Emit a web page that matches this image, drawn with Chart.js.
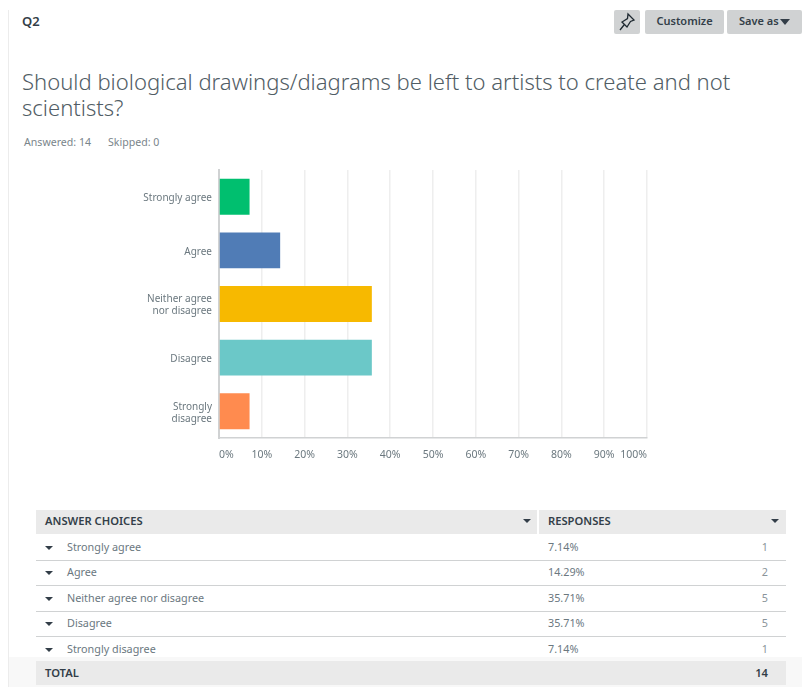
<!DOCTYPE html>
<html>
<head>
<meta charset="utf-8">
<script src="https://cdn.jsdelivr.net/npm/chart.js@4"></script>
<style>
  html, body { margin: 0; padding: 0; background: #fff; }
  body { position: relative; width: 802px; height: 687px; overflow: hidden; font-family: "Noto Sans", sans-serif; color: #6b787f; }
  .abs { position: absolute; white-space: nowrap; }
  .btn { background: #d0d2d3; color: #333e48; font-size: 11px; font-weight: 600; text-align: center; height: 24px; line-height: 22px; top: 10px; border-radius: 2px; }
  .band { background: #eaeaea; height: 24px; left: 36px; width: 750px; }
  .head { color: #333e48; font-size: 11.2px; font-weight: 600; line-height: 14px; }
  .cell { font-size: 10.8px; line-height: 14px; }
  .rule { left: 36px; width: 750px; height: 1px; background: #d0d2d3; }
  .caret { width: 0; height: 0; border-left: 4px solid transparent; border-right: 4px solid transparent; border-top: 4px solid #333e48; }
</style>
</head>
<body>
<div class="abs" style="left:8px;top:10px;width:1px;height:677px;background:#ececec"></div>
<div class="abs" style="left:9px;top:657px;width:793px;height:30px;background:#f8f8f8"></div>

<div class="abs" style="left:22px;top:13px;font-size:13px;font-weight:600;color:#333e48;line-height:17px">Q2</div>
<div class="abs btn" style="left:614px;width:26px">
  <svg width="20" height="20" viewBox="0 0 20 20" style="margin-top:2px" fill="none" stroke="#1d2830" stroke-width="1.3">
    <path d="M11 2 L17 8 L13.5 9.5 L10 15 L5 10 L10.5 6.5 Z M7 13 L3 18"/>
  </svg>
</div>
<div class="abs btn" style="left:645px;width:79px">Customize</div>
<div class="abs btn" style="left:727px;width:75px;text-align:left;text-indent:12px">Save as</div>
<div class="abs caret" style="left:780px;top:19px;border-left-width:5px;border-right-width:5px;border-top-width:6px"></div>

<div class="abs" id="title" style="left:22px;top:68px;font-size:22.05px;line-height:26px;color:#515d65;font-weight:300">Should biological drawings/diagrams be left to artists to create and not<br>scientists?</div>
<div class="abs" style="left:24px;top:135px;font-size:10.6px;line-height:14px;color:#7a858b">Answered: 14</div>
<div class="abs" style="left:108px;top:135px;font-size:10.6px;line-height:14px;color:#7a858b">Skipped: 0</div>

<div class="abs" style="left:130px;top:165px;width:530px;height:300px">
  <canvas id="chart" width="530" height="300"></canvas>
</div>

<div id="table"></div>

<script>
// Survey answers, as axis labels, table labels, percentages and counts
const axisLabels = ["Strongly agree", "Agree", ["Neither agree", "nor disagree"], "Disagree", ["Strongly", "disagree"]];
const choices = ["Strongly agree", "Agree", "Neither agree nor disagree", "Disagree", "Strongly disagree"];
const percents = [7.14, 14.29, 35.71, 35.71, 7.14];
const counts = [1, 2, 5, 5, 1];
const total = 14;
const barColors = ["#00bf6f", "#507cb6", "#f7b900", "#6bc8c8", "#ff8b4f"];
const xTicks = [0, 10, 20, 30, 40, 50, 60, 70, 80, 90, 100];

const textColor = "#6b787f";
const font = { family: '"Noto Sans", sans-serif', size: 10 };

new Chart(document.getElementById("chart"), {
  type: "bar",
  data: {
    labels: axisLabels,
    datasets: [{
      data: percents,
      backgroundColor: barColors,
      barPercentage: 0.67,
      categoryPercentage: 1
    }]
  },
  options: {
    indexAxis: "y",
    responsive: false,
    animation: false,
    layout: { padding: { top: 5, right: 13, left: 0, bottom: 0 } },
    plugins: { legend: { display: false }, tooltip: { enabled: false } },
    scales: {
      x: {
        min: 0,
        max: 100,
        afterFit(scale) {
          scale.height = 27;
          scale.paddingLeft = 0;
          scale.paddingRight = 0;
        },
        afterBuildTicks(scale) { scale.ticks = xTicks.map(value => ({ value })); },
        grid: { color: "#eeeeee", lineWidth: 1.5, drawTicks: false },
        border: { color: "#d0d2d3", width: 1.5 },
        ticks: {
          align: "inner",
          padding: 11,
          maxRotation: 0,
          autoSkip: false,
          color: textColor,
          font: { family: font.family, size: 10.5 },
          callback: value => value + "%"
        }
      },
      y: {
        afterFit(scale) {
          scale.width = 89;
          scale.paddingTop = 0;
          scale.paddingBottom = 0;
        },
        grid: { display: false, drawTicks: false },
        border: { color: "#d0d2d3", width: 2 },
        ticks: { padding: 7, labelOffset: 1.5, color: textColor, font, autoSkip: false }
      }
    }
  }
});

// Results table under the chart
const table = document.getElementById("table");
function add(className, style, text) {
  const el = document.createElement("div");
  el.className = "abs " + className;
  el.style.cssText = style;
  if (text !== undefined) el.textContent = text;
  table.appendChild(el);
}

add("band", "top:510px");
add("", "left:537px;top:510px;width:1.5px;height:24px;background:#fff");
add("head", "left:45px;top:514px", "ANSWER CHOICES");
add("head", "left:548px;top:514px", "RESPONSES");
add("caret", "left:523px;top:519px");
add("caret", "left:771px;top:519px");

const rowCentres = [547, 572, 598, 623, 649];
choices.forEach((choice, i) => {
  const y = rowCentres[i];
  add("caret", `left:45px;top:${y - 1}px`);
  add("cell", `left:67px;top:${y - 7}px`, choice);
  add("cell", `left:548px;top:${y - 7}px`, percents[i].toFixed(2) + "%");
  add("cell", `right:34px;top:${y - 7}px;color:#8a949a`, String(counts[i]));
  if (i < choices.length - 1) add("rule", `top:${y + 12.5}px`);
});

add("band", "top:661px");
add("head", "left:45px;top:666px", "TOTAL");
add("head", "right:34px;top:666px", String(total));
</script>
</body>
</html>
